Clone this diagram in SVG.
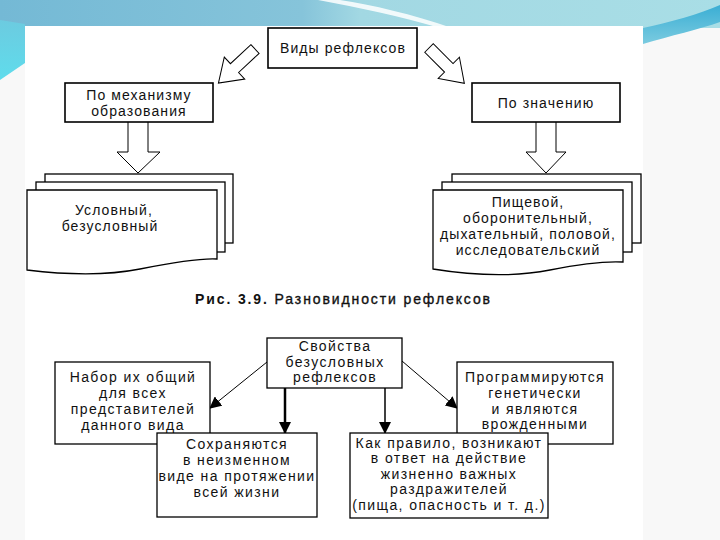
<svg xmlns="http://www.w3.org/2000/svg" width="720" height="540" viewBox="0 0 720 540">
<defs>
<linearGradient id="topg" x1="0" y1="0" x2="1" y2="0">
<stop offset="0" stop-color="#74b9d5"/>
<stop offset="0.42" stop-color="#86c4da"/>
<stop offset="0.5" stop-color="#a2d8e3"/>
<stop offset="1" stop-color="#a9dee6"/>
</linearGradient>
<linearGradient id="leftg" x1="0" y1="0" x2="0" y2="1">
<stop offset="0" stop-color="#6ccbe0"/>
<stop offset="1" stop-color="#5fdcec"/>
</linearGradient>
<linearGradient id="swg" x1="0" y1="0" x2="0" y2="1">
<stop offset="0" stop-color="#3aaed4"/>
<stop offset="1" stop-color="#7bcbe0"/>
</linearGradient>
<path id="harrow" d="M-6,0 H6 V28 H15 L0,50 L-15,28 H-6 Z"/>
<marker id="ah" markerWidth="12" markerHeight="12" refX="11" refY="6" orient="auto" markerUnits="userSpaceOnUse">
<path d="M0,0 L12,6 L0,12 Z" fill="#000"/>
</marker>
</defs>
<style>
.box{fill:#fff;stroke:#000;stroke-width:1.6}
.bbox{fill:#fff;stroke:#000;stroke-width:1.3}
.page{fill:#fff;stroke:#000;stroke-width:1.3}
.hol{fill:#fff;stroke:#000;stroke-width:1}
.t{font-family:"Liberation Sans",Arial,sans-serif;font-size:14px;fill:#111;text-anchor:middle;letter-spacing:1.1px}
.tb{font-family:"Liberation Sans",Arial,sans-serif;font-size:14px;fill:#111;text-anchor:middle;letter-spacing:1.4px}
.cap{font-family:"Liberation Sans",Arial,sans-serif;font-size:14px;fill:#111}
.con{fill:none;stroke:#000}
</style>
<!-- background -->
<rect x="0" y="0" width="720" height="540" fill="#f8f8f8"/>
<rect x="0" y="0" width="720" height="28" fill="url(#topg)"/>
<path d="M318,0 C360,8 400,16 440,28 L452,28 C412,14 372,5 340,0 Z" fill="#ffffff" opacity="0.85"/>
<polygon points="0,20 25,24 25,63 0,80" fill="url(#leftg)"/>
<path d="M643,28 C670,22 700,14 720,5 V22 C700,29 670,36 643,44 Z" fill="url(#swg)"/>
<rect x="25" y="26" width="618" height="514" fill="#ffffff"/>

<!-- connectors -->
<g id="connectors">
<use href="#harrow" class="hol" transform="translate(255,49) rotate(47)"/>
<use href="#harrow" class="hol" transform="translate(429,48) rotate(-45)"/>
<path class="hol" d="M128,122 V152 H117 L138,173 L160,152 H148 V122"/>
<path class="hol" d="M536,122 V152 H526 L546,173 L566,152 H556 V122"/>
<line class="con" x1="267" y1="362" x2="210" y2="408" stroke-width="1" marker-end="url(#ah)"/>
<line class="con" x1="285" y1="388" x2="285" y2="433" stroke-width="2.5" marker-end="url(#ah)"/>
<line class="con" x1="385" y1="388" x2="385" y2="433" stroke-width="1.5" marker-end="url(#ah)"/>
<line class="con" x1="402" y1="361" x2="457" y2="408" stroke-width="1" marker-end="url(#ah)"/>
</g>

<!-- top diagram -->
<g id="vidy">
<rect class="box" x="268" y="28" width="149" height="40"/>
<text class="t" x="343" y="53">Виды рефлексов</text>
</g>
<g id="mechanizm">
<rect class="box" x="65" y="83" width="148" height="39"/>
<text class="t" x="139" y="100">По механизму</text>
<text class="t" x="139" y="116">образования</text>
</g>
<g id="znachenie">
<rect class="box" x="472" y="83" width="148" height="39"/>
<text class="t" x="546" y="108">По значению</text>
</g>
<g id="uslovny">
<rect class="page" x="45" y="174" width="188" height="69"/>
<rect class="page" x="36" y="182" width="189" height="70"/>
<path class="page" d="M27,190 H217 V259 C200,258 175,262 140,269 C100,277 60,274 27,270 Z"/>
<text class="t" x="114" y="215">Условный,</text>
<text class="t" x="110" y="231">безусловный</text>
</g>
<g id="pischevoy">
<rect class="page" x="452" y="174" width="189" height="69"/>
<rect class="page" x="442" y="182" width="190" height="70"/>
<path class="page" d="M433,190 H623 V262 C605,261 580,264 550,270 C510,278 470,275 433,269 Z"/>
<text class="t" x="528" y="207">Пищевой,</text>
<text class="t" x="528" y="223">оборонительный,</text>
<text class="t" x="528" y="239">дыхательный, половой,</text>
<text class="t" x="528" y="255">исследовательский</text>
</g>
<text class="cap" x="195" y="304" textLength="295" lengthAdjust="spacing"><tspan font-weight="bold">Рис. 3.9.</tspan><tspan stroke="#111" stroke-width="0.35"> Разновидности рефлексов</tspan></text>

<!-- bottom diagram -->
<g id="svoystva">
<rect class="bbox" x="267" y="338" width="135" height="50"/>
<text class="tb" x="335" y="351">Свойства</text>
<text class="tb" x="335" y="367">безусловных</text>
<text class="tb" x="335" y="382">рефлексов</text>
</g>
<g id="nabor">
<rect class="bbox" x="55" y="362" width="155" height="82"/>
<text class="tb" x="133" y="382">Набор их общий</text>
<text class="tb" x="133" y="398">для всех</text>
<text class="tb" x="133" y="414">представителей</text>
<text class="tb" x="133" y="430">данного вида</text>
</g>
<g id="sohranyayutsya">
<rect class="bbox" x="157" y="433" width="160" height="84"/>
<text class="tb" x="237" y="449">Сохраняются</text>
<text class="tb" x="237" y="465">в неизменном</text>
<text class="tb" x="237" y="481">виде на протяжении</text>
<text class="tb" x="237" y="497">всей жизни</text>
</g>
<g id="programmiruyutsya">
<rect class="bbox" x="457" y="362" width="156" height="82"/>
<text class="tb" x="535" y="382">Программируются</text>
<text class="tb" x="535" y="398">генетически</text>
<text class="tb" x="535" y="414">и являются</text>
<text class="tb" x="535" y="429">врожденными</text>
</g>
<g id="kak-pravilo">
<rect class="bbox" x="350" y="433" width="198" height="85"/>
<text class="tb" x="449" y="448">Как правило, возникают</text>
<text class="tb" x="449" y="463">в ответ на действие</text>
<text class="tb" x="449" y="479">жизненно важных</text>
<text class="tb" x="449" y="494">раздражителей</text>
<text class="tb" x="449" y="510">(пища, опасность и т. д.)</text>
</g>
</svg>
